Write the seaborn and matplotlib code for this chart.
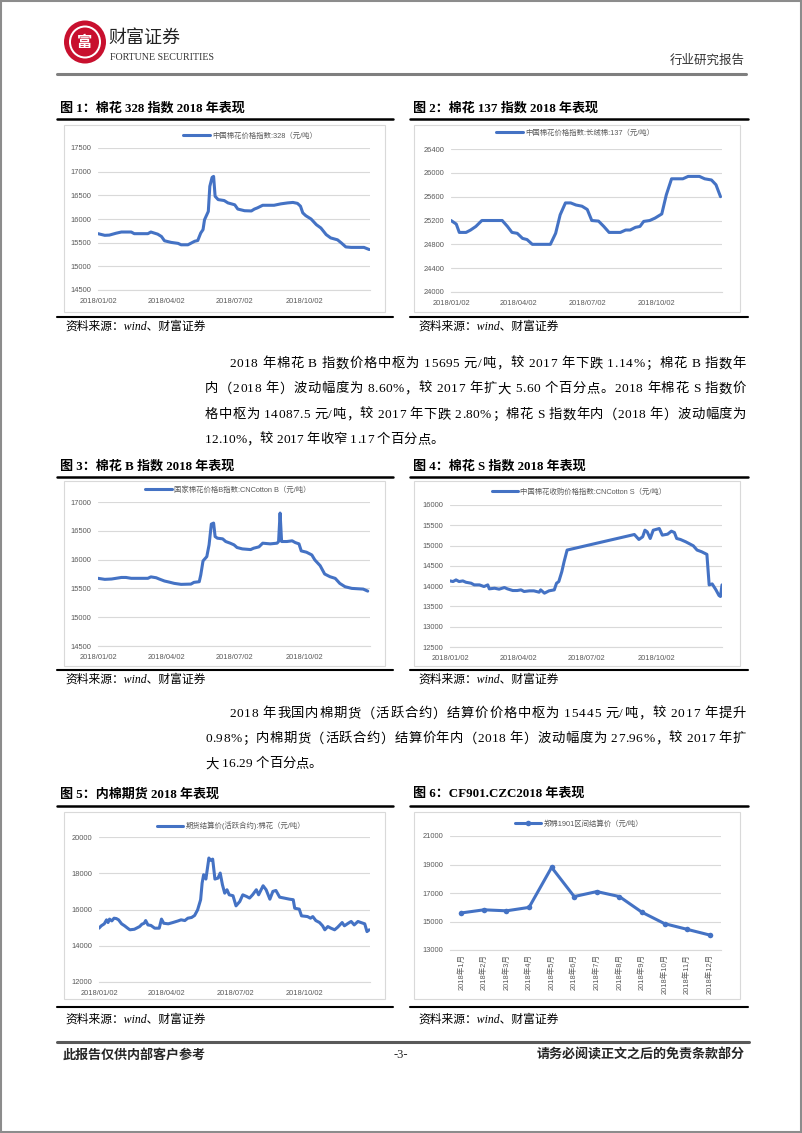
import matplotlib
matplotlib.use("Agg")
import matplotlib.pyplot as plt
import seaborn as sns
import numpy as np
import pandas as pd
from matplotlib.patches import Rectangle, Ellipse
from matplotlib.lines import Line2D
from matplotlib.font_manager import FontProperties

W, H = 802, 1133
START = pd.Timestamp("2018-01-02")
END = pd.Timestamp("2018-12-28")

# x tick dates / labels shared by the daily charts
tick_dates = ["2018-01-02", "2018-04-02", "2018-07-02", "2018-10-02"]
tick_labels = ["2018/01/02", "2018/04/02", "2018/07/02", "2018/10/02"]

# chart 1: 328 index (days since 2018-01-02, value)
c328_days = [0, 9, 15, 24, 31, 44, 48, 66, 70, 79, 84, 88, 97, 106, 110, 119, 128, 132, 136, 139,
             141, 144, 146, 148, 151, 153, 155, 159, 167, 172, 181, 185, 194, 203, 207, 211, 218, 233, 242, 251,
             258, 264, 268, 271, 275, 282, 289, 295, 302, 308, 317, 322, 328, 335, 352, 359]
c328_vals = [15690, 15655, 15660, 15700, 15725, 15725, 15690, 15690, 15725, 15680,
             15630, 15540, 15505, 15485, 15455, 15455, 15530, 15545, 15705, 15775,
             15985, 16090, 16160, 16690, 16880, 16900, 16480, 16410, 16390, 16340,
             16300, 16210, 16175, 16170, 16210, 16235, 16290, 16290, 16320, 16340,
             16350, 16330, 16270, 16130, 16070, 16000, 15880, 15810, 15670, 15600,
             15560, 15495, 15410, 15400, 15400, 15355]

# chart 2: 137 index
c137_days = [0, 7, 11, 20, 26, 33, 37, 41, 68, 75, 81, 88, 95, 101, 108, 132, 139, 145, 152, 159,
             166, 174, 181, 187, 196, 203, 210, 225, 232, 238, 245, 251, 256, 264, 271, 280, 286, 293, 308, 315,
             330, 337, 346, 352, 358]
c137_vals = [25200, 25140, 25000, 25000, 25040, 25100, 25150, 25200, 25200, 25100,
             25000, 24985, 24900, 24880, 24800, 24800, 24985, 25295, 25495, 25495,
             25460, 25440, 25385, 25200, 25190, 25100, 25000, 25000, 25040, 25040,
             25085, 25100, 25185, 25200, 25240, 25310, 25630, 25900, 25900, 25940,
             25940, 25900, 25880, 25800, 25600]

# chart 3: B index
cb_days = [0, 9, 18, 31, 37, 44, 66, 70, 77, 81, 88, 94, 101, 110, 123, 127, 134, 136, 139, 144,
           147, 150, 153, 155, 158, 165, 169, 175, 180, 184, 191, 202, 206, 213, 218, 228, 237, 239, 241, 243,
           250, 257, 261, 266, 269, 276, 283, 287, 294, 300, 307, 314, 320, 327, 336, 351, 357]
cb_vals = [15675, 15657, 15663, 15690, 15690, 15675, 15675, 15700, 15685, 15663,
           15628, 15610, 15587, 15570, 15575, 15605, 15616, 15733, 15977, 16052,
           16256, 16616, 16634, 16400, 16372, 16360, 16314, 16285, 16256, 16210,
           16186, 16174, 16198, 16221, 16285, 16273, 16285, 16314, 16808, 16314,
           16314, 16326, 16296, 16273, 16151, 16128, 16081, 15994, 15895, 15750,
           15703, 15674, 15587, 15529, 15500, 15488, 15453]

# chart 4: S index
cs_days = [0, 4, 8, 12, 17, 21, 28, 32, 39, 45, 50, 52, 59, 65, 72, 76, 83, 89, 94, 98,
           105, 111, 118, 120, 125, 131, 138, 141, 144, 148, 151, 155, 244, 250, 255, 258, 261, 265, 269, 277,
           281, 288, 293, 297, 300, 305, 312, 322, 327, 333, 340, 343, 347, 352, 356, 358, 360]
cs_vals = [14129, 14113, 14154, 14113, 14129, 14096, 14072, 14031, 14031, 13990,
           14031, 13933, 13949, 13925, 13966, 13933, 13892, 13892, 13908, 13868,
           13884, 13884, 13851, 13908, 13827, 13884, 13908, 14072, 14113, 14358,
           14603, 14889, 15273, 15150, 15216, 15379, 15338, 15175, 15379, 15420,
           15257, 15281, 15355, 15322, 15175, 15150, 15093, 14995, 14889, 14848,
           14783, 14031, 14055, 13908, 13770, 13745, 14031]

# chart 5: futures settlement price
cf_days = [0, 3, 7, 10, 12, 14, 17, 20, 23, 26, 30, 34, 38, 41, 47, 54, 57, 60, 62, 65,
           69, 74, 80, 83, 86, 92, 98, 105, 109, 114, 118, 123, 127, 131, 135, 137, 139, 142, 146, 148,
           151, 154, 158, 161, 164, 167, 170, 173, 178, 182, 187, 191, 196, 200, 204, 209, 212, 218, 222, 227,
           231, 235, 240, 246, 253, 258, 260, 266, 269, 277, 281, 284, 288, 293, 297, 300, 304, 308, 313, 317,
           323, 326, 331, 335, 339, 344, 348, 353, 356, 359]
cf_vals = [14970, 15100, 15210, 15430, 15280, 15470, 15370, 15520, 15500, 15430,
           15210, 15100, 14970, 14880, 14910, 15060, 15190, 15240, 15390, 15150,
           15120, 14970, 14970, 15470, 15240, 15210, 15280, 15370, 15430, 15390,
           15520, 15560, 15670, 15980, 16540, 17460, 17920, 17680, 18840, 18710,
           18780, 17680, 17730, 18010, 17360, 16900, 17090, 16810, 16760, 16200,
           16440, 16810, 16720, 16630, 16810, 17090, 16810, 17310, 17090, 16570,
           17000, 17050, 16680, 16630, 16570, 16540, 16070, 16020, 15650, 15610,
           15520, 15610, 15390, 15280, 15100, 14880, 15060, 14970, 14880, 15020,
           15280, 15100, 15240, 15340, 15150, 15340, 15280, 15210, 14780, 14880]

# chart 6: CF901 monthly
months = ["2018年1月", "2018年2月", "2018年3月", "2018年4月", "2018年5月", "2018年6月",
          "2018年7月", "2018年8月", "2018年9月", "2018年10月", "2018年11月", "2018年12月"]
cf901_vals = [15600, 15820, 15750, 15990, 18800, 16750, 17100, 16750, 15650, 14850, 14450, 14050]

titles = ["图 1：棉花 328 指数 2018 年表现", "图 2：棉花 137 指数 2018 年表现",
          "图 3：棉花 B 指数 2018 年表现", "图 4：棉花 S 指数 2018 年表现",
          "图 5：内棉期货 2018 年表现", "图 6：CF901.CZC2018 年表现"]
legends = ["中国棉花价格指数:328（元/吨）", "中国棉花价格指数:长绒棉:137（元/吨）",
           "国家棉花价格B指数:CNCotton B（元/吨）", "中国棉花收购价格指数:CNCotton S（元/吨）",
           "期货结算价(活跃合约):棉花（元/吨）", "郑棉1901区间结算价（元/吨）"]
source = "资料来源：wind、财富证券"

para1 = ["2018 年棉花 B 指数价格中枢为 15695 元/吨，较 2017 年下跌 1.14%；棉花 B 指数年",
         "内（2018 年）波动幅度为 8.60%，较 2017 年扩大 5.60 个百分点。2018 年棉花 S 指数价",
         "格中枢为 14087.5 元/吨，较 2017 年下跌 2.80%；棉花 S 指数年内（2018 年）波动幅度为",
         "12.10%，较 2017 年收窄 1.17 个百分点。"]
para2 = ["2018 年我国内棉期货（活跃合约）结算价价格中枢为 15445 元/吨，较 2017 年提升",
         "0.98%；内棉期货（活跃合约）结算价年内（2018 年）波动幅度为 27.96%，较 2017 年扩",
         "大 16.29 个百分点。"]

sns.set_theme(style="white")
SANS = ["Liberation Sans", "Noto Sans CJK SC", "DejaVu Sans"]
SERIF = ["Liberation Serif", "Noto Sans CJK SC", "DejaVu Sans"]
plt.rcParams["font.family"] = SANS

BLUE = "#4472C4"
GRID = "#d9d9d9"
TXT = "#595959"

fig = plt.figure(figsize=(W / 100, H / 100), dpi=100)


def fx(x):
    return x / W


def fy(y):
    return 1 - y / H


def hline(y, x0, x1, color="black", lw=1.6):
    fig.add_artist(Line2D([fx(x0), fx(x1)], [fy(y), fy(y)], color=color, lw=lw))


def box(x0, y0, x1, y1):
    fig.add_artist(Rectangle((fx(x0), fy(y1)), fx(x1) - fx(x0), fy(y0) - fy(y1),
                             fill=False, edgecolor=GRID, lw=0.8))


def make_axes(x0, y0, x1, y1):
    return fig.add_axes([fx(x0), fy(y1), fx(x1) - fx(x0), fy(y0) - fy(y1)])


def style_axes(ax, yticks):
    ax.set_ylim(yticks[0], yticks[-1])
    ax.set_yticks(yticks)
    ax.grid(axis="y", color=GRID, lw=0.8)
    ax.grid(axis="x", visible=False)
    for s in ["left", "right", "top"]:
        ax.spines[s].set_visible(False)
    ax.spines["bottom"].set_color(GRID)
    ax.spines["bottom"].set_linewidth(0.8)
    ax.tick_params(axis="y", length=0, pad=5, labelsize=5.4, labelcolor=TXT)
    ax.tick_params(axis="x", length=3, width=0.6, color="#bfbfbf", pad=3, labelsize=5.4, labelcolor=TXT)
    ax.set_xlabel("")
    ax.set_ylabel("")


def add_legend(ax, cx, cy):
    ax.legend(loc="center", bbox_to_anchor=(fx(cx), fy(cy)), bbox_transform=fig.transFigure,
              frameon=False, handlelength=3.6, handletextpad=0.3, labelcolor=TXT,
              prop=FontProperties(family=SANS, size=5.3))


def daily_chart(rect, days, vals, yticks, label, leg):
    ax = make_axes(*rect)
    dates = START + pd.to_timedelta(days, unit="D")
    df = pd.DataFrame({"date": dates, "value": vals})
    sns.lineplot(data=df, x="date", y="value", ax=ax, color=BLUE, lw=2.2, label=label)
    ax.set_xlim(START, END)
    ax.set_xticks(pd.to_datetime(tick_dates))
    ax.set_xticklabels(tick_labels)
    style_axes(ax, yticks)
    add_legend(ax, *leg)
    return ax


# page frame and header
fig.add_artist(Rectangle((0.001, 0.001), 0.998, 0.998, fill=False, edgecolor="#8c8c8c", lw=1.5))
fig.add_artist(Ellipse((fx(85), fy(42)), 42 / W, 43 / H, facecolor="#c8102e", edgecolor="none"))
fig.add_artist(Ellipse((fx(85), fy(42)), 32 / W, 33 / H, facecolor="white", edgecolor="none"))
fig.add_artist(Ellipse((fx(85), fy(42)), 28 / W, 29 / H, facecolor="#c8102e", edgecolor="none"))
fig.text(fx(85), fy(43), "富", color="white", fontsize=11, ha="center", va="center",
         family=SANS, weight="bold")
fig.text(fx(108), fy(38), "财富证券", color="#222222", fontsize=13, ha="left", va="center", family=SERIF)
fig.text(fx(110), fy(58), "FORTUNE SECURITIES", color="#333333", fontsize=7.2, ha="left", va="center",
         family=SERIF, fontstretch="condensed")
fig.text(fx(745), fy(61), "行业研究报告", color="#333333", fontsize=9, ha="right", va="center", family=SERIF)
hline(74, 57, 746, color="#7f7f7f", lw=2.2)

# figure titles, rules, sources
rows = [(108, 119, 125, 312, 317, 327), (466, 477, 481, 666, 670, 680), (794, 806, 812, 999, 1007, 1020)]
cols = [(60, 57, 393, 64, 385), (413, 410, 748, 414, 740)]
k = 0
for ty, ly, by0, by1, ly2, sy in rows:
    for tx, lx0, lx1, bx0, bx1 in cols:
        fig.text(fx(tx), fy(ty), titles[k], fontsize=9.4, weight="bold", family=SERIF,
                 ha="left", va="center", color="black")
        hline(ly, lx0, lx1, lw=1.8)
        box(bx0, by0, bx1, by1)
        hline(ly2, lx0, lx1, lw=1.5)
        fig.text(fx(tx + 5), fy(sy), source, fontsize=8.5, style="italic", family=SERIF,
                 ha="left", va="center", color="black")
        k += 1

# charts
daily_chart((98, 148, 370, 290), c328_days, c328_vals, list(range(14500, 17501, 500)), legends[0], (250, 136))
daily_chart((451, 149, 722, 292), c137_days, c137_vals, list(range(24000, 26401, 400)), legends[1], (575, 133))
daily_chart((98, 502, 370, 646), cb_days, cb_vals, list(range(14500, 17001, 500)), legends[2], (228, 490))
daily_chart((450, 505, 722, 647), cs_days, cs_vals, list(range(12500, 16001, 500)), legends[3], (579, 492))
daily_chart((99, 837, 370, 982), cf_days, cf_vals, list(range(12000, 20001, 2000)), legends[4], (231, 826))

ax6 = make_axes(450, 836, 721, 950)
df6 = pd.DataFrame({"month": months, "value": cf901_vals})
sns.lineplot(data=df6, x="month", y="value", ax=ax6, color=BLUE, lw=2.2, marker="o",
             markersize=4, markeredgewidth=0, sort=False, label=legends[5])
ax6.set_xlim(-0.5, 11.5)
style_axes(ax6, list(range(13000, 21001, 2000)))
ax6.set_xticks(range(12))
ax6.set_xticklabels(months, rotation=90, family=SANS)
ax6.tick_params(axis="x", length=0, pad=3)
ax6.set_xticks(np.arange(-0.5, 12, 1), minor=True)
ax6.tick_params(axis="x", which="minor", length=3, width=0.6, color="#bfbfbf")
add_legend(ax6, 579, 824)

# body paragraphs (justified)
renderer = fig.canvas.get_renderer()
body_prop = FontProperties(family=SERIF, size=9.6)


def text_line(y, x0, x1, s, justify=True):
    widths = [renderer.get_text_width_height_descent(c, body_prop, ismath=False)[0] for c in s]
    gap = (x1 - x0 - sum(widths)) / (len(s) - 1) if justify else 0.0
    x = x0
    for c, w in zip(s, widths):
        if c != " ":
            fig.text(fx(x), fy(y), c, fontproperties=body_prop, ha="left", va="center", color="black")
        x += w + gap


for i, (y, line) in enumerate(zip([364, 389, 415, 440], para1)):
    x0 = 229 if i == 0 else 205
    text_line(y, x0, 746, line, justify=i < len(para1) - 1)
for i, (y, line) in enumerate(zip([714, 739, 764], para2)):
    x0 = 229 if i == 0 else 205
    text_line(y, x0, 746, line, justify=i < len(para2) - 1)

# footer
hline(1042, 57, 749, color="#595959", lw=2.2)
fig.text(fx(63), fy(1055), "此报告仅供内部客户参考", fontsize=9.4, weight="bold", family=SERIF,
         ha="left", va="center")
fig.text(fx(401), fy(1055), "-3-", fontsize=9, family=SERIF, ha="center", va="center")
fig.text(fx(745), fy(1055), "请务必阅读正文之后的免责条款部分", fontsize=9.4, weight="bold", family=SERIF,
         ha="right", va="center")

fig.savefig("out.png", dpi=100)
